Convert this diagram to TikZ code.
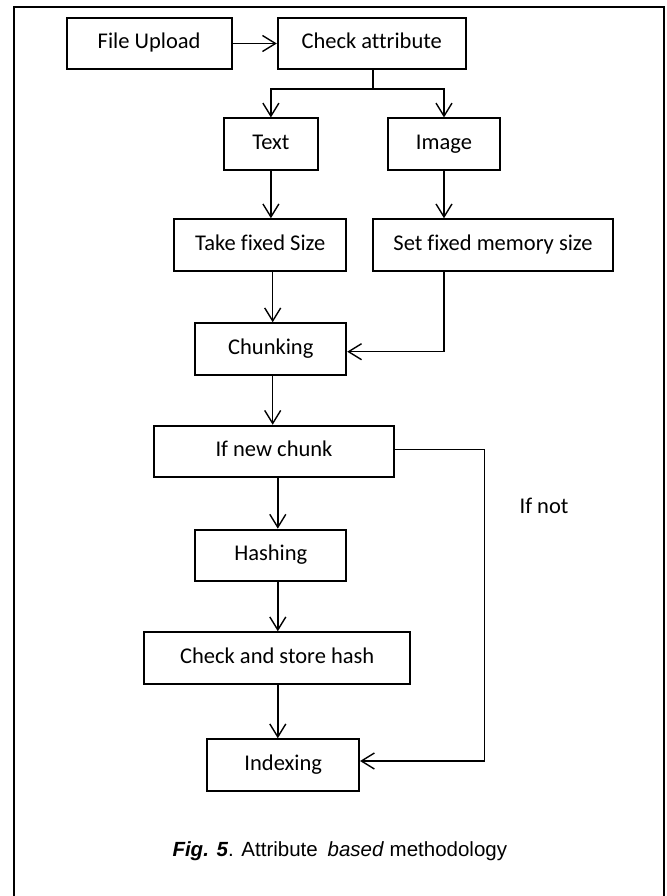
\documentclass[tikz,border=0pt]{standalone}
\usepackage{fontspec}
\setmainfont{Carlito}[Ligatures=CommonOff]
\newfontfamily\capfont{Liberation Sans}
\usetikzlibrary{arrows.meta}
\tikzset{
  flowbox/.style={draw, line width=2pt, inner sep=0pt, align=center,
    font=\fontsize{22.5}{26}\selectfont, minimum height=51.5pt,
    text height=15pt, text depth=4.5pt},
  conn/.style={line width=1.4pt},
  arr/.style={conn, -{Straight Barb[length=13pt,width=16pt,line width=1.4pt]}},
}
\begin{document}
\begin{tikzpicture}[x=1pt,y=-1pt]
\useasboundingbox (0,0) rectangle (666,896);
% frame (open at the bottom)
\draw[line width=2pt] (14.2,896) -- (14.2,6.7) -- (664,6.7) -- (664,896);

\node[flowbox, minimum width=164.8pt] (upload) at (149.1,43.5) {File Upload};
\node[flowbox, minimum width=187.8pt] (check)  at (371.7,43.5) {Check attribute};
\node[flowbox, minimum width=94.7pt]  (text)   at (270.9,144.2) {Text};
\node[flowbox, minimum width=112.1pt] (image)  at (444,144.2) {Image};
\node[flowbox, minimum width=172pt]   (take)   at (260.2,245) {Take fixed Size};
\node[flowbox, minimum width=240.8pt] (setm)   at (493,245) {Set fixed memory size};
\node[flowbox, minimum width=150.8pt] (chunk)  at (270.8,349) {Chunking};
\node[flowbox, minimum width=240.4pt] (ifnew)  at (274,451.5) {If new chunk};
\node[flowbox, minimum width=150.8pt] (hash)   at (270.8,555.4) {Hashing};
\node[flowbox, minimum width=265.6pt] (store)  at (277.2,658) {Check and store hash};
\node[flowbox, minimum width=151.7pt] (index)  at (283.2,765) {Indexing};

\node[font=\fontsize{22.5}{26}\selectfont, text height=15pt, text depth=4.5pt] (ifnot) at (544,508) {If not};

\node[font=\capfont\fontsize{20.5}{24}\selectfont] (caption) at (339.8,850.7)
  {\textbf{\textit{Fig. 5}}. Attribute\hspace{0.2em} \textit{based} methodology};

% connectors
\draw[arr] (upload.east) -- (check.west);
\coordinate (split) at ([xshift=1.3pt]check.south |- 0,89);
\draw[conn] ([xshift=1.3pt]check.south) -- (split);
\draw[arr] (split) -| (text.north);
\draw[arr] (split) -| (image.north);
\draw[arr] (text.south) -- (text.south |- take.north);
\draw[arr] (image.south) -- (image.south |- setm.north);
\draw[arr] ([xshift=1.9pt]chunk.north |- take.south) -- ([xshift=1.9pt]chunk.north);
\coordinate (setdown) at (image.south |- 0,351.7);
\draw[arr] (image.south |- setm.south) -- (setdown) -- (setdown -| chunk.east);
\draw[arr] ([xshift=1.9pt]chunk.south) -- ([xshift=1.9pt]chunk.south |- ifnew.north);
\coordinate (rtop) at (484.3,449.3);
\coordinate (rbot) at (484.3,761);
\draw[arr] (ifnew.east |- rtop) -- (rtop) -- (rbot) -- (rbot -| index.east);
\draw[arr] ([xshift=0.6pt]store.north |- ifnew.south) -- ([xshift=0.6pt]store.north |- hash.north);
\draw[arr] ([xshift=0.6pt]store.north |- hash.south) -- ([xshift=0.6pt]store.north);
\draw[arr] ([xshift=0.6pt]store.south) -- ([xshift=0.6pt]store.south |- index.north);
\end{tikzpicture}
\end{document}
